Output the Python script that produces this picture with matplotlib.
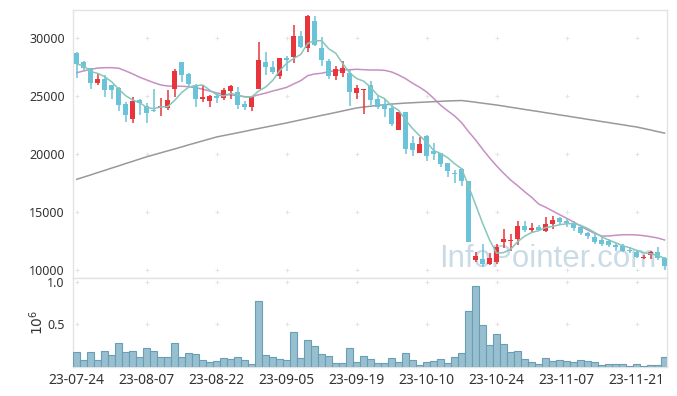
import numpy as np
import pandas as pd
import matplotlib
matplotlib.use("Agg")
import matplotlib.pyplot as plt

plt.rcParams['font.family'] = ['Noto Sans', 'DejaVu Sans']

# daily OHLC (trading-day index 0..84)
opens = [28730, 27930, 27390, 26150, 26470, 25950, 25690, 24310, 23040, 24660,
         24140, 23790, 24030, 24000, 25580, 27930, 26900, 25920, 24740, 24600,
         24990, 24860, 25430, 25350, 24310, 24080, 25600, 27960, 27500, 26750,
         28250, 28390, 30170, 29170, 31470, 29140, 28020, 26720, 27010, 26960,
         25290, 25520, 25920, 24740, 24340, 23970, 22070, 23590, 20920, 20110,
         21550, 20260, 20060, 19200, 18390, 18710, 17670, 10860, 10950, 10520,
         10720, 12410, 12470, 12640, 13790, 13470, 13710, 13390, 13970, 14450,
         14200, 14020, 13680, 13190, 12850, 12610, 12530, 12160, 12070, 11720,
         11550, 11010, 11290, 11530, 11060]
highs = [28760, 28040, 27450, 26900, 26780, 25990, 25750, 24480, 24940, 24770,
         24420, 25580, 24800, 25520, 27300, 27960, 26950, 26040, 25950, 25090,
         25230, 25660, 25920, 25750, 24600, 24990, 29660, 28790, 28040, 28280,
         28450, 31090, 30630, 31960, 31900, 30060, 28190, 27560, 28040, 27240,
         25920, 25580, 26320, 25000, 24720, 24370, 23620, 23620, 21550, 21440,
         21600, 20920, 20090, 19250, 18620, 18760, 17700, 11580, 12240, 11440,
         12240, 13560, 13100, 14250, 14200, 14020, 13850, 14540, 14660, 14540,
         14370, 14200, 13820, 13300, 13100, 12820, 12670, 12350, 12210, 12010,
         11660, 11290, 11640, 11960, 11100]
lows = [26580, 27240, 25580, 25980, 24940, 24720, 23730, 22730, 22650, 23360,
        22650, 23650, 23280, 23790, 24940, 26230, 25800, 24030, 24480, 24030,
        24370, 24660, 24770, 23850, 23790, 23730, 25600, 26780, 26900, 26470,
        27180, 27820, 29150, 28820, 29300, 27610, 26440, 26350, 26660, 24140,
        24720, 23420, 24200, 23850, 23220, 22410, 22070, 20000, 19830, 20110,
        19420, 19480, 18900, 17990, 17470, 17240, 12440, 10690, 10290, 10430,
        10520, 11870, 11660, 12130, 13300, 13160, 13330, 13300, 13560, 13970,
        13730, 13390, 13020, 12640, 12240, 12100, 11960, 11660, 11550, 11440,
        11010, 10920, 10920, 10860, 10000]
closes = [27760, 27410, 26150, 26470, 25520, 25520, 24220, 23360, 24600, 24370,
          23510, 23710, 24140, 24660, 27160, 26840, 26040, 24770, 24910, 24970,
          24830, 25520, 25860, 24250, 24080, 24910, 28100, 27530, 27100, 28280,
          28100, 30170, 29250, 31900, 29400, 28100, 26720, 27330, 27440, 25350,
          25690, 25580, 24660, 24030, 23900, 22590, 23620, 20460, 20340, 20860,
          19830, 20030, 19140, 18560, 18250, 17670, 12440, 11210, 10520, 11060,
          12010, 12700, 12610, 13790, 13450, 13620, 13450, 13970, 14310, 14160,
          14020, 13620, 13160, 12960, 12440, 12220, 12130, 12010, 11660, 11610,
          11090, 11090, 11530, 11010, 10340]
volumes = [175000, 85000, 175000, 85000, 187000, 140000, 280000, 175000, 187000, 117000,
           222000, 187000, 117000, 117000, 280000, 117000, 164000, 152000, 82000, 58000,
           70000, 105000, 93000, 117000, 82000, 35000, 771000, 140000, 117000, 93000,
           82000, 409000, 105000, 315000, 245000, 152000, 128000, 47000, 47000, 222000,
           58000, 128000, 93000, 47000, 47000, 105000, 58000, 164000, 82000, 23000,
           58000, 70000, 93000, 47000, 117000, 164000, 654000, 946000, 490000, 257000,
           386000, 269000, 175000, 187000, 93000, 58000, 35000, 105000, 70000, 82000,
           70000, 58000, 82000, 70000, 58000, 23000, 35000, 35000, 35000, 12000,
           35000, 12000, 23000, 23000, 117000]
# 20-day and long moving averages
ma20 = [27010, 27160, 27300, 27410, 27440, 27440, 27390, 27160, 26900, 26610,
        26380, 26150, 25950, 25860, 25840, 25840, 25800, 25720, 25580, 25430,
        25260, 25150, 25090, 25030, 24940, 24930, 25110, 25250, 25430, 25580,
        25750, 26040, 26320, 26750, 26900, 26960, 27100, 27180, 27240, 27270,
        27300, 27270, 27240, 27240, 27210, 27070, 26810, 26490, 26100, 25750,
        25350, 24800, 24200, 23730, 23280, 22700, 21920, 21210, 20410, 19660,
        18970, 18340, 17760, 17270, 16750, 16270, 15690, 15410, 15090, 14770,
        14460, 14140, 13790, 13450, 13160, 12930, 12930, 12990, 13040, 13040,
        13020, 12960, 12870, 12760, 12590]
ma_long = [17820, 18010, 18200, 18400, 18590, 18790, 18980, 19180, 19370, 19570,
           19760, 19930, 20100, 20270, 20440, 20610, 20790, 20960, 21130, 21300,
           21470, 21590, 21710, 21830, 21950, 22080, 22200, 22320, 22440, 22560,
           22680, 22810, 22940, 23070, 23200, 23330, 23450, 23580, 23710, 23840,
           23970, 24050, 24120, 24190, 24250, 24300, 24350, 24390, 24420, 24450,
           24480, 24510, 24540, 24570, 24590, 24610, 24540, 24460, 24380, 24300,
           24220, 24130, 24030, 23940, 23840, 23750, 23660, 23560, 23470, 23370,
           23280, 23180, 23090, 22990, 22900, 22800, 22710, 22610, 22520, 22420,
           22330, 22200, 22070, 21930, 21800]
tick_labels = ['23-07-24', '23-08-07', '23-08-22', '23-09-05', '23-09-19',
               '23-10-10', '23-10-24', '23-11-07', '23-11-21']

UP = '#e8353b'
DOWN = '#6bc3d9'
GRID = '#e4e4e4'
SPINE = '#e3e3e3'
TEXT = '#333333'


def style_axes(ax):
    for s in ax.spines.values():
        s.set_color(SPINE)
        s.set_linewidth(1.0)
    ax.tick_params(length=0, labelsize=9, colors=TEXT, pad=6)


def plus_grid(ax, xs, ys):
    gx, gy = np.meshgrid(xs, ys)
    ax.scatter(gx.ravel(), gy.ravel(), marker='+', s=12, color=GRID,
               linewidths=0.7, zorder=0, clip_on=False)


def main():
    df = pd.DataFrame({'open': opens, 'high': highs, 'low': lows,
                       'close': closes, 'volume': volumes})
    x = np.arange(len(df))
    ma5 = df['close'].rolling(5, min_periods=1).mean()

    fig = plt.figure(figsize=(6.77, 3.96), dpi=100)
    ax = fig.add_axes([0.1078, 0.298, 0.8774, 0.6768])
    axv = fig.add_axes([0.1078, 0.0725, 0.8774, 0.2255], sharex=ax)

    up = df['close'] >= df['open']
    colors = np.where(up, UP, DOWN)
    body_lo = np.minimum(df['open'], df['close'])
    body_h = np.maximum((df['close'] - df['open']).abs(), 60)

    ax.vlines(x, df['low'], df['high'], colors=colors, linewidth=1.1, zorder=3)
    ax.bar(x, body_h, bottom=body_lo, width=0.72, color=colors, zorder=4,
           linewidth=0)

    ax.plot(x, ma5, color='#86c6bc', lw=1.1, zorder=5)
    ax.plot(x, ma20, color='#c78fc4', lw=1.1, zorder=2)
    ax.plot(x, ma_long, color='#999999', lw=1.1, zorder=2)

    ax.set_xlim(-0.55, 84.35)
    ax.set_ylim(9310, 32415)
    yt = [10000, 15000, 20000, 25000, 30000]
    ax.set_yticks(yt)
    xt = np.arange(0, 81, 10)
    ax.set_xticks(xt)
    plt.setp(ax.get_xticklabels(), visible=False)
    style_axes(ax)
    plus_grid(ax, xt, yt)

    ax.text(0.8, 0.042, 'InfoPointer.com', transform=ax.transAxes,
            ha='center', va='baseline', fontsize=22.5, color='#c4d8e4',
            alpha=0.9, zorder=1, family='Liberation Sans')

    axv.bar(x, df['volume'] / 1e6, width=1.0, color='#97bfcf',
            edgecolor='#6a9db6', linewidth=0.8, zorder=3)
    axv.set_ylim(0, 1.043)
    axv.set_yticks([0.5, 1.0])
    axv.set_yticklabels(['0.5', '1.0'])
    axv.set_xticks(xt)
    axv.set_xticklabels(tick_labels)
    style_axes(axv)
    axv.tick_params(axis='x', labelsize=10, pad=4)
    plus_grid(axv, xt, [0.5, 1.0])
    fig.text(0.056, 0.187, r'$10^6$', rotation=90, ha='center', va='center',
             fontsize=10, color=TEXT)

    fig.savefig('out.png', dpi=100, facecolor='white')


if __name__ == '__main__':
    main()
